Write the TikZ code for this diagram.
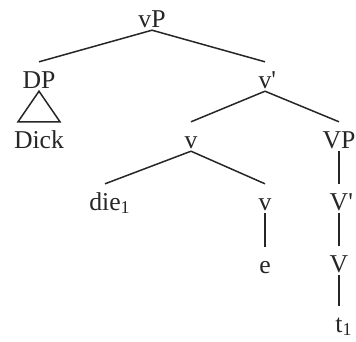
\documentclass[tikz,border=0pt]{standalone}
\usepackage{fontspec}
\setmainfont{Liberation Serif}[Ligatures=TeXOff]
\usetikzlibrary{positioning}

\tikzset{
  cat/.style={anchor=base, inner sep=0pt, text height=26pt, text depth=3pt,
    text=black!85, font=\fontsize{25.7}{30}\selectfont},
  branch/.style={line width=1.5pt, draw=black!85}
}

\begin{document}
\begin{tikzpicture}[x=1pt,y=-1pt]
    \useasboundingbox (0,0) rectangle (356,341);
    % categories
    \node[cat] (vP) at (152,27) {vP};
    \node[cat] (DP) at (39,88) {DP};
    \node[cat] (Dick) at (39,148) {Dick};
    \node[cat] (vbar) at (265,88) {v\rlap{'}};
    \node[cat] (vmid) at (191,148) {v};
    \node[cat] (VP) at (339,148) {VP};
    \node[cat] (die) at (105,210) {die\rlap{\textsubscript{1}}};
    \node[cat] (vlow) at (265,210) {v};
    \node[cat] (Vbar) at (339,210) {V\rlap{'}};
    \node[cat] (e) at (265,273) {e};
    \node[cat] (V) at (339,272) {V};
    \node[cat] (t) at (339,332) {t\rlap{\textsubscript{1}}};
    % branches
    \draw[branch] (vP.south) -- (DP.north);
    \draw[branch] (vP.south) -- (vbar.north);
    \draw[branch] (vbar.south) -- (vmid.north);
    \draw[branch] (vbar.south) -- (VP.north);
    \draw[branch] (vmid.south) -- (die.north);
    \draw[branch] (vmid.south) -- (vlow.north);
    \draw[branch] (vlow.south) -- (e.north);
    \draw[branch] (VP.south) -- (Vbar.north);
    \draw[branch] (Vbar.south) -- (V.north);
    \draw[branch] (V.south) -- (t.north);
    % triangle
    \draw[branch] (DP.south) -- ([xshift=-21pt]Dick.north)
      -- ([xshift=21pt]Dick.north) -- cycle;
\end{tikzpicture}
\end{document}
